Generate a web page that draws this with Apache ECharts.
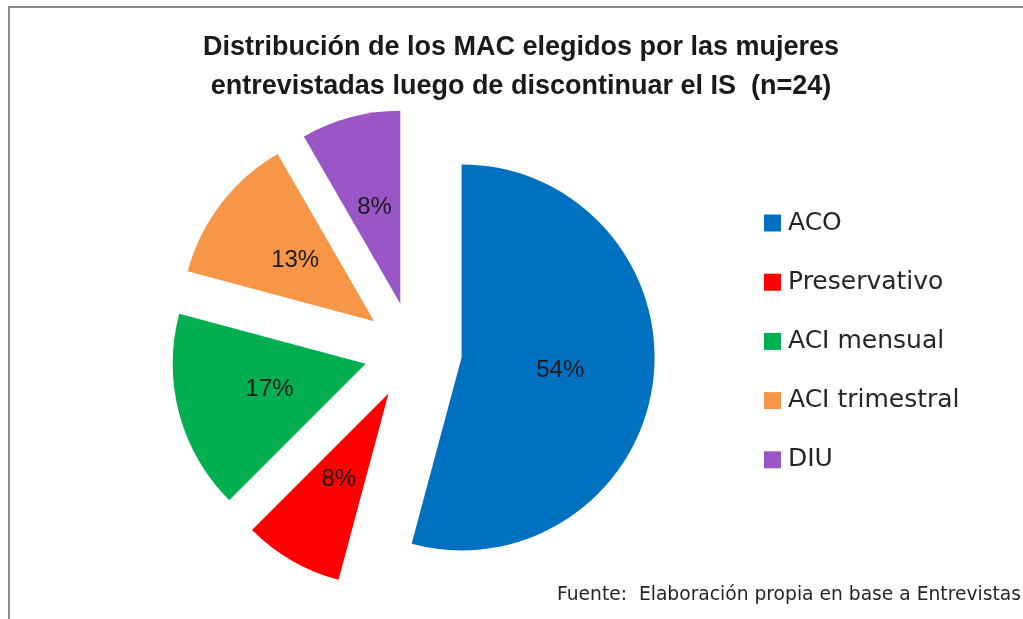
<!DOCTYPE html>
<html>
<head>
<meta charset="utf-8">
<script src="https://cdn.jsdelivr.net/npm/echarts@6/dist/echarts.min.js"></script>
<style>
  html, body { margin: 0; padding: 0; background: #fff; }
  #chart { width: 1023px; height: 619px; }
</style>
</head>
<body>
<div id="chart"></div>
<script>
// metodos elegidos (n=24)
const categories = ['ACO', 'Preservativo', 'ACI mensual', 'ACI trimestral', 'DIU']
const counts = [13, 2, 4, 3, 2]
const colors = ['#0070C0', '#FF0000', '#00B050', '#F79646', '#9A56C6']
const titleText = 'Distribución de los MAC elegidos por las mujeres\nentrevistadas luego de discontinuar el IS  (n=24)'
const sourceText = 'Fuente:  Elaboración propia en base a Entrevistas'

const myChart = echarts.init(document.getElementById('chart'))
const option = {
  animation: false,
  backgroundColor: '#fff',
  title: [{
    text: titleText,
    left: 521,
    top: 28,
    padding: 0,
    textAlign: 'center',
    textStyle: {
      fontFamily: 'Liberation Sans',
      fontWeight: 'bold',
      fontSize: 27,
      lineHeight: 39,
      color: '#1a1a1a'
    }
  }, {
    text: sourceText,
    left: 557,
    top: 586,
    padding: 0,
    textStyle: {
      fontFamily: 'DejaVu Sans',
      fontWeight: 'normal',
      fontSize: 18.7,
      color: '#262626'
    }
  }],
  legend: {
    orient: 'vertical',
    left: 764,
    top: 208,
    padding: 0,
    itemWidth: 17,
    itemHeight: 17,
    itemGap: 29.2,
    icon: 'rect',
    selectedMode: false,
    textStyle: {
      fontFamily: 'DejaVu Sans',
      fontSize: 25,
      lineHeight: 30,
      color: '#262626',
      padding: [0, 0, 0, 2]
    },
    data: categories
  },
  graphic: [{
    type: 'rect',
    silent: true,
    shape: { x: 9, y: 7, width: 1100, height: 700 },
    style: { fill: 'none', stroke: '#8c8c8c', lineWidth: 2 }
  }],
  series: [{
    type: 'pie',
    center: [413, 351],
    radius: 193,
    startAngle: 90,
    clockwise: true,
    selectedMode: 'multiple',
    selectedOffset: 49,
    avoidLabelOverlap: false,
    emphasis: { scale: false },
    label: {
      show: true,
      position: 'inside',
      fontFamily: 'Liberation Sans',
      fontSize: 24,
      color: '#1a1a1a',
      formatter: p => Math.round(p.percent) + '%'
    },
    labelLine: { show: false },
    data: categories.map((name, idx) => ({
      name: name,
      value: counts[idx],
      selected: true,
      itemStyle: { color: colors[idx] }
    }))
  }]
}
myChart.setOption(option)
</script>
</body>
</html>
